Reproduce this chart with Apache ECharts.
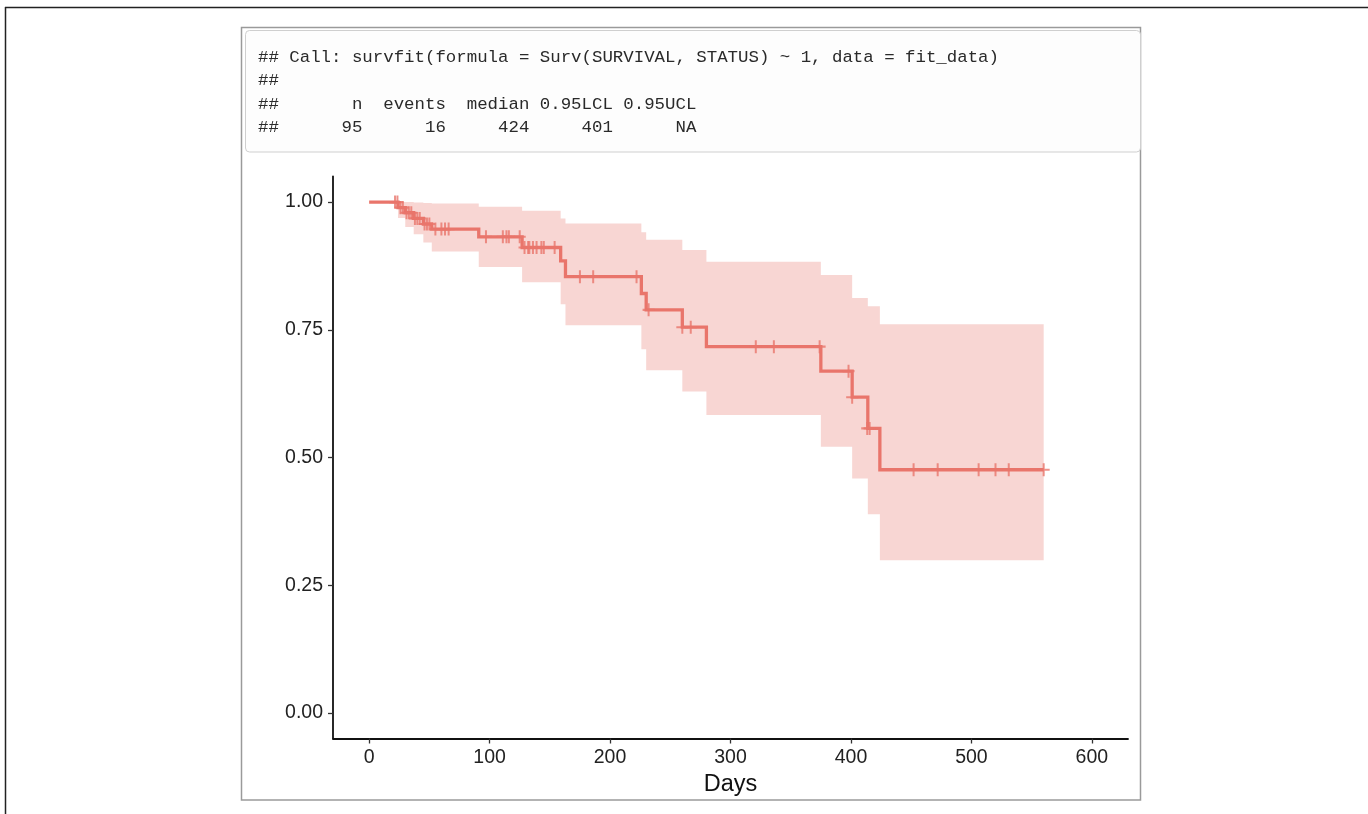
<!DOCTYPE html>
<html>
<head>
<meta charset="utf-8">
<script src="https://cdn.jsdelivr.net/npm/echarts@6/dist/echarts.min.js"></script>
<style>
  html, body { margin: 0; padding: 0; background: #ffffff; }
  #chart { width: 1368px; height: 814px; }
</style>
</head>
<body>
<div id="chart"></div>
<script>
// ---- Data ----
var codeLines = [
  '## Call: survfit(formula = Surv(SURVIVAL, STATUS) ~ 1, data = fit_data)',
  '##',
  '##       n  events  median 0.95LCL 0.95UCL',
  '##      95      16     424     401      NA'
];
var xTicks = [0, 100, 200, 300, 400, 500, 600];
var yTicks = [0, 0.25, 0.5, 0.75, 1.0];
var xTitle = 'Days';

// Kaplan-Meier step curve (time at which each level starts, survival level)
var stepTimes = [0, 24, 30, 37, 45, 52, 91, 127, 159, 163, 226, 230, 260, 280, 375, 401, 414, 424];
var survival  = [1.0, 0.989, 0.979, 0.968, 0.957, 0.947, 0.932, 0.911, 0.885, 0.854, 0.821, 0.789, 0.755, 0.717, 0.669, 0.618, 0.557, 0.476];
var upperCI   = [1.0, 1.0, 1.0, 0.999, 0.998, 0.997, 0.991, 0.983, 0.968, 0.958, 0.941, 0.926, 0.906, 0.883, 0.857, 0.812, 0.796, 0.761];
var lowerCI   = [1.0, 0.969, 0.951, 0.937, 0.921, 0.903, 0.873, 0.843, 0.800, 0.759, 0.712, 0.671, 0.629, 0.583, 0.521, 0.459, 0.389, 0.299];
var endTime = 560;

// Censoring marks
var censorTimes = [21.5, 23.5, 26, 28, 31, 33, 35, 38, 40, 42, 46, 48, 50, 55, 60, 63, 66,
                   97, 111, 114, 116, 125, 129, 132, 133, 136, 139, 143, 145, 154,
                   175, 186, 222, 232, 260, 267, 321, 336, 374, 398, 401, 413.5, 415.5,
                   452, 472, 506, 520, 531, 560];
var censorSurv  = [1.0, 1.0, 0.989, 0.989, 0.979, 0.979, 0.979, 0.968, 0.968, 0.968, 0.957, 0.957, 0.957, 0.947, 0.947, 0.947, 0.947,
                   0.932, 0.932, 0.932, 0.932, 0.932, 0.911, 0.911, 0.911, 0.911, 0.911, 0.911, 0.911, 0.911,
                   0.854, 0.854, 0.854, 0.789, 0.755, 0.755, 0.717, 0.717, 0.717, 0.669, 0.618, 0.557, 0.557,
                   0.476, 0.476, 0.476, 0.476, 0.476, 0.476];

// ---- Build series data ----
var kmLine = stepTimes.map(function (t, i) { return [t, survival[i]]; });
kmLine.push([endTime, survival[survival.length - 1]]);
var censorData = censorTimes.map(function (t, i) { return [t, censorSurv[i]]; });

var lineColor = '#E9756B';
var bandColor = '#F8D6D3';
var plusPath = 'path://M5,0 L7,0 L7,5 L12,5 L12,7 L7,7 L7,12 L5,12 L5,7 L0,7 L0,5 L5,5 Z';
var codeFont = '17.4px "Liberation Mono"';

var chart = echarts.init(document.getElementById('chart'), null, { renderer: 'canvas' });

var option = {
  backgroundColor: '#ffffff',
  animation: false,
  grid: { left: 333, right: 240, top: 176.5, bottom: 75.5 },
  xAxis: {
    type: 'value',
    min: -30, max: 630,
    name: xTitle,
    nameLocation: 'middle',
    nameGap: 33,
    nameTextStyle: { fontFamily: 'Liberation Sans', fontSize: 23.5, color: '#111' },
    axisLine: { show: true, onZero: false, lineStyle: { color: '#111', width: 1.8 } },
    axisTick: { show: true, length: 5, customValues: xTicks, lineStyle: { color: '#333', width: 1.3 } },
    axisLabel: { customValues: xTicks, margin: 9, fontFamily: 'Liberation Sans', fontSize: 19.5, color: '#222' },
    splitLine: { show: false }
  },
  yAxis: {
    type: 'value',
    min: -0.05, max: 1.05,
    axisLine: { show: true, onZero: false, lineStyle: { color: '#111', width: 1.8 } },
    axisTick: { show: true, length: 5, customValues: yTicks, lineStyle: { color: '#333', width: 1.3 } },
    axisLabel: {
      customValues: yTicks, margin: 10, fontFamily: 'Liberation Sans', fontSize: 19.5, color: '#222',
      formatter: function (v) { return Number(v).toFixed(2); }
    },
    splitLine: { show: false }
  },
  graphic: [
    // outer window frame (top and left)
    { type: 'line', shape: { x1: 5, y1: 7.5, x2: 1368, y2: 7.5 }, style: { stroke: '#222', lineWidth: 1.5 }, z: 0 },
    { type: 'line', shape: { x1: 5.5, y1: 7, x2: 5.5, y2: 814 }, style: { stroke: '#222', lineWidth: 1.5 }, z: 0 },
    // panel
    { type: 'rect', shape: { x: 241.5, y: 27.5, width: 899, height: 772.5 }, style: { fill: '#ffffff', stroke: '#9a9a9a', lineWidth: 1.5 }, z: -10 },
    // code box
    { type: 'rect', shape: { x: 245.5, y: 30.5, width: 895, height: 121.5, r: 4 }, style: { fill: '#fdfdfd', stroke: '#cfcfcf', lineWidth: 1 }, z: -5 },
    { type: 'text', left: 258, top: 48.5, style: { text: codeLines[0], font: codeFont, fill: '#2a2a2a' } },
    { type: 'text', left: 258, top: 72, style: { text: codeLines[1], font: codeFont, fill: '#2a2a2a' } },
    { type: 'text', left: 258, top: 95.5, style: { text: codeLines[2], font: codeFont, fill: '#2a2a2a' } },
    { type: 'text', left: 258, top: 119, style: { text: codeLines[3], font: codeFont, fill: '#2a2a2a' } }
  ],
  series: [
    {
      type: 'custom',
      coordinateSystem: 'cartesian2d',
      silent: true,
      z: 1,
      data: [[0, 0]],
      renderItem: function (params, api) {
        var pts = [];
        var n = stepTimes.length;
        for (var i = 0; i < n; i++) {
          var t1 = (i < n - 1) ? stepTimes[i + 1] : endTime;
          pts.push(api.coord([stepTimes[i], upperCI[i]]));
          pts.push(api.coord([t1, upperCI[i]]));
        }
        for (var j = n - 1; j >= 0; j--) {
          var t2 = (j < n - 1) ? stepTimes[j + 1] : endTime;
          pts.push(api.coord([t2, lowerCI[j]]));
          pts.push(api.coord([stepTimes[j], lowerCI[j]]));
        }
        return { type: 'polygon', shape: { points: pts }, style: { fill: bandColor } };
      }
    },
    {
      type: 'line',
      step: 'end',
      data: kmLine,
      symbol: 'none',
      z: 3,
      lineStyle: { color: lineColor, width: 3.3, join: 'miter', cap: 'butt' }
    },
    {
      type: 'scatter',
      data: censorData,
      symbol: plusPath,
      symbolSize: [12, 13],
      z: 4,
      itemStyle: { color: lineColor }
    }
  ]
};
chart.setOption(option);
</script>
</body>
</html>
